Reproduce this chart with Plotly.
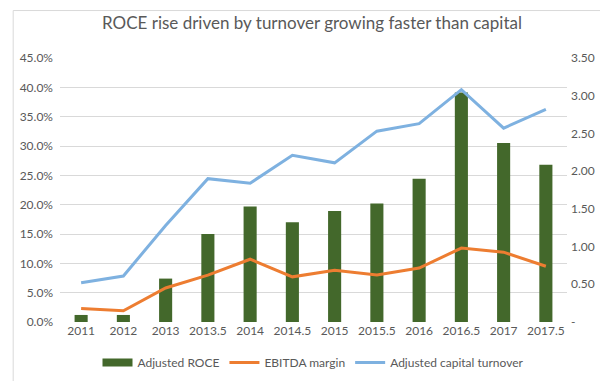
import plotly.graph_objects as go

# ---- data ----
periods = ["2011", "2012", "2013", "2013.5", "2014", "2014.5", "2015",
           "2015.5", "2016", "2016.5", "2017", "2017.5"]
adjusted_roce = [1.2, 1.2, 7.4, 15.0, 19.7, 17.0, 18.9, 20.2, 24.4, 39.1, 30.5, 26.8]
ebitda_margin = [2.3, 1.9, 5.8, 8.0, 10.7, 7.7, 8.8, 8.0, 9.2, 12.6, 11.9, 9.5]
capital_turnover = [0.52, 0.61, 1.28, 1.90, 1.84, 2.21, 2.11, 2.53, 2.63, 3.08, 2.57, 2.82]

left_ticks = [0, 5, 10, 15, 20, 25, 30, 35, 40, 45]
right_ticks = [0, 0.5, 1.0, 1.5, 2.0, 2.5, 3.0, 3.5]
right_ticktext = ["-", "0.50", "1.00", "1.50", "2.00", "2.50", "3.00", "3.50"]

FONT = "Lato"
GRAY = "#595959"
GREEN = "#43682B"

fig = go.Figure()
fig.add_trace(go.Bar(x=periods, y=adjusted_roce, name="Adjusted ROCE",
                     marker=dict(color=GREEN, line=dict(width=0)),
                     width=0.31, yaxis="y", showlegend=False))
# legend swatch for the bars (wide rectangle like the original)
fig.add_trace(go.Scatter(x=[None], y=[None], name="Adjusted ROCE", mode="lines",
                         line=dict(color=GREEN, width=8), yaxis="y"))
fig.add_trace(go.Scatter(x=periods, y=ebitda_margin, name="EBITDA margin",
                         mode="lines", line=dict(color="#ED7D31", width=3),
                         yaxis="y"))
fig.add_trace(go.Scatter(x=periods, y=capital_turnover, name="Adjusted capital turnover",
                         mode="lines", line=dict(color="#7EB1E0", width=3),
                         yaxis="y2"))

W, H = 608, 381
L, R, T, B = 50, 49, 50, 64
pw, ph = W - L - R, H - T - B

def px(x):
    return (x - L) / pw

def py(y):
    return (H - B - y) / ph

fig.update_layout(
    width=W, height=H,
    margin=dict(l=L, r=R, t=T, b=B),
    paper_bgcolor="white", plot_bgcolor="white",
    font=dict(family=FONT, size=12, color=GRAY),
    title=dict(text="ROCE rise driven by turnover growing faster than capital",
               x=0.5, xanchor="center", y=1 - 15 / H, yanchor="middle",
               font=dict(family=FONT, size=17, color=GRAY)),
    xaxis=dict(type="category", showgrid=False, showline=False, zeroline=False,
               ticks="", tickfont=dict(size=12, color=GRAY)),
    yaxis=dict(range=[0, 45], tickvals=left_ticks,
               ticktext=[f"{v:.1f}%" for v in left_ticks],
               showgrid=True, gridcolor="#D9D9D9", gridwidth=1,
               zeroline=False, showline=False, ticks="", ticklabelstandoff=6,
               tickfont=dict(size=12, color=GRAY)),
    yaxis2=dict(range=[0, 3.5], overlaying="y", side="right",
                tickvals=right_ticks, ticktext=right_ticktext,
                showgrid=False, zeroline=False, showline=False, ticks="",
                ticklabelstandoff=3,
                tickfont=dict(size=12, color=GRAY)),
    legend=dict(orientation="h", x=0.5, xanchor="center", y=py(358), yanchor="middle",
                font=dict(size=12, color=GRAY), itemwidth=30, tracegroupgap=0),
    showlegend=True,
)

# chart-area border
fig.add_shape(type="rect", xref="paper", yref="paper",
              x0=px(3), x1=px(606), y0=py(379), y1=py(2),
              line=dict(color="#D9D9D9", width=1), layer="below")

fig.write_html("out.html")
